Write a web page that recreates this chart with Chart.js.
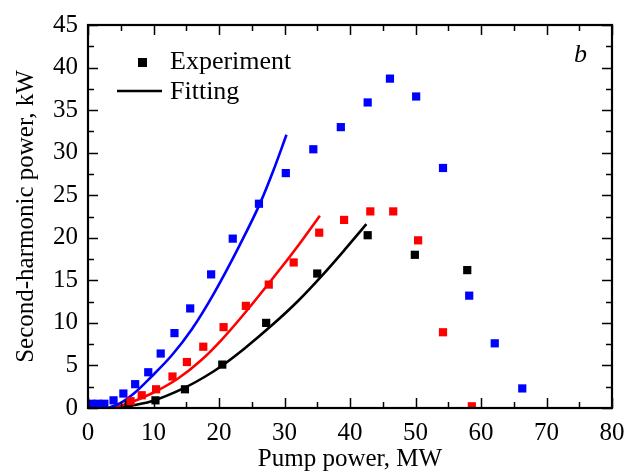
<!DOCTYPE html>
<html>
<head>
<meta charset="utf-8">
<script src="https://cdn.jsdelivr.net/npm/chart.js@4.4.1/dist/chart.umd.min.js"></script>
<style>
  html, body { margin: 0; padding: 0; background: #fff; }
  #wrap { width: 637px; height: 474px; }
</style>
</head>
<body>
<div id="wrap"><canvas id="chart"></canvas></div>
<script>
// experimental points (pump power MW, second-harmonic power kW)
const blueX = [0.5, 1.5, 2.5, 3.9, 5.4, 7.2, 9.2, 11.1, 13.2, 15.6, 18.8, 22.1, 26.1, 30.2, 34.4, 38.6, 42.7, 46.1, 50.1, 54.2, 58.2, 62.1, 66.3];
const blueY = [0.5, 0.5, 0.5, 0.9, 1.7, 2.8, 4.2, 6.4, 8.8, 11.7, 15.7, 19.9, 24.0, 27.6, 30.4, 33.0, 35.9, 38.7, 36.6, 28.2, 13.2, 7.6, 2.3];
const redX = [6.5, 8.2, 10.4, 12.9, 15.1, 17.6, 20.7, 24.1, 27.6, 31.4, 35.3, 39.1, 43.1, 46.6, 50.4, 54.2, 58.6];
const redY = [0.8, 1.5, 2.2, 3.7, 5.4, 7.2, 9.5, 12.0, 14.5, 17.1, 20.6, 22.1, 23.1, 23.1, 19.7, 8.9, 0.2];
const blackX = [6.2, 10.3, 14.8, 20.5, 27.2, 35.0, 42.7, 49.9, 57.9];
const blackY = [0.4, 0.9, 2.2, 5.1, 10.0, 15.8, 20.3, 18.0, 16.2];

// fitting curves
const blueFitX = [3.0, 5.0, 7.0, 9.7, 12.8, 15.8, 19.1, 23.2, 26.3, 28.3, 30.3];
const blueFitY = [0, 0.6, 1.7, 3.7, 6.2, 9.2, 13.3, 19.2, 24.1, 27.9, 32.1];
const redFitX = [3.6, 6.0, 9.7, 13.8, 17.4, 20.5, 24.2, 29.3, 32.1, 35.4];
const redFitY = [0, 0.5, 1.7, 3.5, 5.7, 8.1, 11.4, 16.3, 19.1, 22.6];
const blackFitX = [4.6, 9.7, 14.8, 17.9, 20.5, 23.9, 28.2, 32.1, 35.9, 39.2, 42.5];
const blackFitY = [0, 0.8, 2.4, 3.7, 5.0, 7.0, 9.8, 12.6, 15.7, 18.6, 21.6];

const xTicks = [0, 10, 20, 30, 40, 50, 60, 70, 80];
const yTicks = [0, 5, 10, 15, 20, 25, 30, 35, 40, 45];

const SERIF = '"Liberation Serif", "Times New Roman", serif';

function pts(xs, ys) {
    return xs.map((x, i) => ({ x: x, y: ys[i] }));
}

function markers(xs, ys, color) {
    return {
        data: pts(xs, ys),
        showLine: false,
        pointStyle: 'rect',
        pointRadius: 5.8,
        pointHoverRadius: 5.8,
        backgroundColor: color,
        borderColor: color,
        borderWidth: 0,
    };
}

function fit(xs, ys, color) {
    return {
        data: pts(xs, ys),
        showLine: true,
        borderColor: color,
        borderWidth: 2.6,
        pointRadius: 0,
        pointHoverRadius: 0,
        cubicInterpolationMode: 'monotone',
        fill: false,
    };
}

// box frame with inward major/minor ticks, legend and panel letter
const framePlugin = {
    id: 'frame',
    afterDraw(chart) {
        const ctx = chart.ctx;
        const a = chart.chartArea;
        const xs = chart.scales.x, ys = chart.scales.y;
        ctx.save();
        ctx.strokeStyle = '#000';
        ctx.lineWidth = 1.5;
        for (let v = 0; v <= 80; v += 5) {
            const px = Math.round(xs.getPixelForValue(v)) + 0.5;
            const len = v % 10 === 0 ? 10 : 6;
            ctx.beginPath();
            ctx.moveTo(px, a.bottom); ctx.lineTo(px, a.bottom - len);
            ctx.moveTo(px, a.top); ctx.lineTo(px, a.top + len);
            ctx.stroke();
        }
        for (let v = 0; v <= 45; v += 2.5) {
            const py = Math.round(ys.getPixelForValue(v)) + 0.5;
            const len = v % 5 === 0 ? 10 : 6;
            ctx.beginPath();
            ctx.moveTo(a.left, py); ctx.lineTo(a.left + len, py);
            ctx.moveTo(a.right, py); ctx.lineTo(a.right - len, py);
            ctx.stroke();
        }
        ctx.lineWidth = 2.2;
        ctx.strokeRect(a.left, a.top, a.right - a.left, a.bottom - a.top);

        // legend
        ctx.fillStyle = '#000';
        ctx.fillRect(138, 58, 9, 9);
        ctx.lineWidth = 2.6;
        ctx.beginPath();
        ctx.moveTo(117, 91); ctx.lineTo(162, 91);
        ctx.stroke();
        ctx.font = '26px ' + SERIF;
        ctx.textBaseline = 'middle';
        ctx.textAlign = 'left';
        ctx.fillText('Experiment', 170, 62);
        ctx.fillText('Fitting', 170, 92);
        ctx.font = 'italic 26px ' + SERIF;
        ctx.fillText('b', 574, 55);
        ctx.restore();
    }
};

new Chart(document.getElementById('chart'), {
    type: 'scatter',
    data: {
        datasets: [
            markers(blueX, blueY, '#0000ff'),
            markers(redX, redY, '#ff0000'),
            markers(blackX, blackY, '#000000'),
            fit(blueFitX, blueFitY, '#0000ff'),
            fit(redFitX, redFitY, '#ff0000'),
            fit(blackFitX, blackFitY, '#000000'),
        ],
    },
    options: {
        responsive: true,
        maintainAspectRatio: false,
        animation: false,
        events: [],
        layout: {
            padding: { top: 19, right: 25, left: 0, bottom: 0 },
        },
        plugins: {
            legend: { display: false },
            tooltip: { enabled: false },
        },
        scales: {
            x: {
                type: 'linear',
                min: 0,
                max: 80,
                afterBuildTicks: (s) => { s.ticks = xTicks.map(v => ({ value: v })); },
                afterFit: (s) => { s.height = 66; },
                grid: { display: false, drawTicks: false },
                border: { display: false },
                ticks: {
                    color: '#000',
                    padding: 10,
                    maxRotation: 0,
                    font: { family: SERIF, size: 25 },
                },
                title: {
                    display: true,
                    text: 'Pump power, MW',
                    color: '#000',
                    padding: { top: 0, bottom: 0 },
                    font: { family: SERIF, size: 25 },
                },
            },
            y: {
                type: 'linear',
                min: 0,
                max: 45,
                afterBuildTicks: (s) => { s.ticks = yTicks.map(v => ({ value: v })); },
                afterFit: (s) => { s.width = 88; },
                grid: { display: false, drawTicks: false },
                border: { display: false },
                ticks: {
                    color: '#000',
                    padding: 10,
                    font: { family: SERIF, size: 25 },
                },
                title: {
                    display: true,
                    text: 'Second-harmonic power, kW',
                    color: '#000',
                    padding: { top: 11, bottom: 0 },
                    font: { family: SERIF, size: 25 },
                },
            },
        },
    },
    plugins: [framePlugin],
});
</script>
</body>
</html>
